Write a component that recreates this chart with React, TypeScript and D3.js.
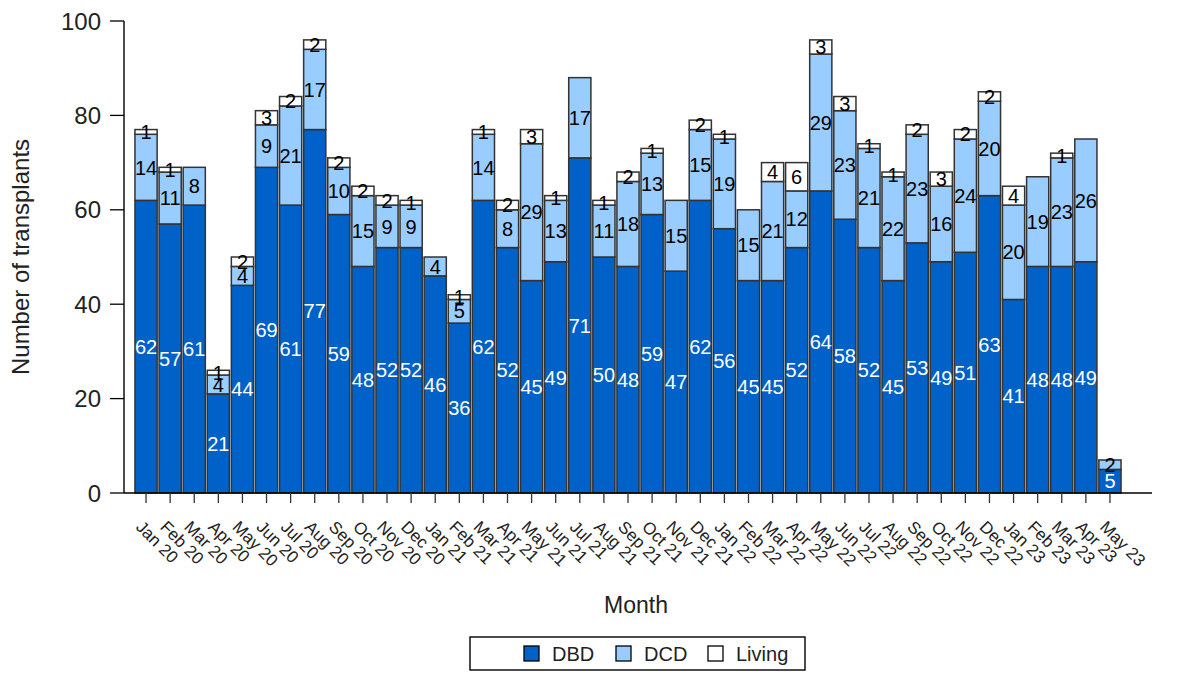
import React from "react";
import * as d3 from "d3";

const months = [
  "Jan 20","Feb 20","Mar 20","Apr 20","May 20","Jun 20","Jul 20","Aug 20","Sep 20","Oct 20","Nov 20","Dec 20",
  "Jan 21","Feb 21","Mar 21","Apr 21","May 21","Jun 21","Jul 21","Aug 21","Sep 21","Oct 21","Nov 21","Dec 21",
  "Jan 22","Feb 22","Mar 22","Apr 22","May 22","Jun 22","Jul 22","Aug 22","Sep 22","Oct 22","Nov 22","Dec 22",
  "Jan 23","Feb 23","Mar 23","Apr 23","May 23",
];
const dbd = [62,57,61,21,44,69,61,77,59,48,52,52,46,36,62,52,45,49,71,50,48,59,47,62,56,45,45,52,64,58,52,45,53,49,51,63,41,48,48,49,5];
const dcd = [14,11,8,4,4,9,21,17,10,15,9,9,4,5,14,8,29,13,17,11,18,13,15,15,19,15,21,12,29,23,21,22,23,16,24,20,20,19,23,26,2];
const living = [1,1,0,1,2,3,2,2,2,2,2,1,0,1,1,2,3,1,0,1,2,1,0,2,1,0,4,6,3,3,1,1,2,3,2,2,4,0,1,0,0];
const yTicks = [0,20,40,60,80,100];
const seriesNames = ["DBD","DCD","Living"];
const colors = ["#0062C8","#99CCFF","#FFFFFF"];
const labelColors = ["#FFFFFF","#000000","#000000"];

const FONT = "'Liberation Sans', Arial, Helvetica, sans-serif";

export default function App() {
  const x = d3.scaleBand<string>().domain(months).range([134, 1122]).paddingInner(0.08).paddingOuter(0.04);
  const y = d3.scaleLinear().domain([0, 100]).range([493, 21]);
  const table = months.map((m, i) => ({ m, DBD: dbd[i], DCD: dcd[i], Living: living[i] }));
  const stacked = d3.stack<any>().keys(seriesNames)(table);

  return (
    <svg width={1183} height={684} style={{ position: "fixed", left: 0, top: 0, background: "#fff" }} fontFamily={FONT}>
      {/* bars */}
      {stacked.map((s, si) => (
        <g key={s.key}>
          {s.map((d, i) => {
            const v = d[1] - d[0];
            if (v <= 0) return null;
            return (
              <rect key={i} x={x(months[i])!} width={x.bandwidth()} y={y(d[1])} height={y(d[0]) - y(d[1])}
                fill={colors[si]} stroke="#333" strokeWidth={1.5} />
            );
          })}
        </g>
      ))}
      {/* labels */}
      {stacked.map((s, si) => (
        <g key={"l" + s.key}>
          {s.map((d, i) => {
            const v = d[1] - d[0];
            if (v <= 0) return null;
            return (
              <text key={i} x={x(months[i])! + x.bandwidth() / 2} y={y((d[0] + d[1]) / 2)} dy="0.36em"
                textAnchor="middle" fontSize={20} fill={labelColors[si]}>{v}</text>
            );
          })}
        </g>
      ))}
      {/* y axis */}
      <line x1={124} x2={124} y1={y(100)} y2={y(0)} stroke="#000" strokeWidth={1.4} />
      {yTicks.map((t) => (
        <g key={t}>
          <line x1={110} x2={124} y1={y(t)} y2={y(t)} stroke="#000" strokeWidth={1.3} />
          <text x={101} y={y(t)} dy="0.36em" textAnchor="end" fontSize={24} fill="#222">{t}</text>
        </g>
      ))}
      <text transform={`translate(29,${y(50)}) rotate(-90)`} textAnchor="middle" fontSize={24} fill="#222">Number of transplants</text>
      {/* x axis */}
      <line x1={124} x2={1152} y1={y(0)} y2={y(0)} stroke="#000" strokeWidth={1.4} />
      {months.map((m) => {
        const cx = x(m)! + x.bandwidth() / 2;
        return (
          <g key={m}>
            <line x1={cx} x2={cx} y1={y(0)} y2={y(0) + 10} stroke="#333" strokeWidth={1.3} />
            <text transform={`translate(${cx - 11},${y(0) + 35}) rotate(45)`} fontSize={17} fill="#222" textAnchor="start">{m}</text>
          </g>
        );
      })}
      <text x={636} y={613} textAnchor="middle" fontSize={23} fill="#222">Month</text>
      {/* legend */}
      <rect x={470} y={637} width={335} height={33} fill="#fff" stroke="#000" strokeWidth={1.4} />
      {seriesNames.map((n, i) => {
        const lx = [524, 616, 708][i];
        return (
          <g key={n}>
            <rect x={lx} y={646} width={15} height={15} fill={colors[i]} stroke="#000" strokeWidth={1.3} />
            <text x={lx + 28} y={654} dy="0.36em" fontSize={20} fill="#222">{n}</text>
          </g>
        );
      })}
    </svg>
  );
}
